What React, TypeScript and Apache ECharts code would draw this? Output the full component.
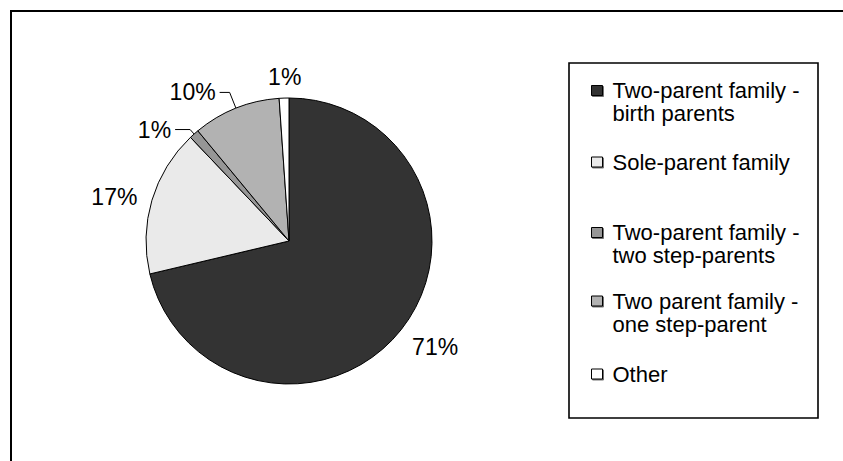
import React, { useEffect, useRef } from "react";
import * as echarts from "echarts";

const categories = [
  "Two-parent family - birth parents",
  "Sole-parent family",
  "Two-parent family - two step-parents",
  "Two parent family - one step-parent",
  "Other",
];
const legendLabels = [
  "Two-parent family -\nbirth parents",
  "Sole-parent family",
  "Two-parent family -\ntwo step-parents",
  "Two parent family -\none step-parent",
  "Other",
];
const values = [71.3, 16.6, 1.1, 9.9, 1.1];
const colors = ["#333333", "#eaeaea", "#969696", "#b2b2b2", "#ffffff"];
const showLeader = [false, false, true, true, false];
const leaderLen = [28, 11, 6, 17, 21];
const leaderLen2 = [0, 0, 15, 10, 0];
const labelDx = [-15, 0, 0, 0, 22];
const labelDy = [0, 0, 0, 0, 0];
const legendTops = [56, 150.5, 198, 266.5, 362.5];

export default function App() {
  const ref = useRef<HTMLDivElement>(null);
  useEffect(() => {
    if (!ref.current) return;
    document.body.style.margin = "0";
    document.body.style.overflow = "hidden";
    document.documentElement.style.overflow = "hidden";
    const chart = echarts.init(ref.current, null, { renderer: "svg" });
    const font = "Arial, 'Liberation Sans', sans-serif";
    const legends = categories.map((name, i) => {
      const twoLine = legendLabels[i].includes("\n");
      return {
        data: [name],
        left: 591,
        top: legendTops[i],
        padding: 0,
        orient: "vertical",
        itemWidth: 11,
        itemHeight: 10,
        icon: "rect",
        selectedMode: false,
        itemStyle: {
          borderColor: "#000",
          borderWidth: 1,
          shadowColor: "rgba(0,0,0,0.55)",
          shadowOffsetX: 1,
          shadowOffsetY: 1,
          shadowBlur: 0,
        },
        formatter: () => (twoLine ? "\n" : "") + legendLabels[i],
        textStyle: {
          fontFamily: font,
          fontSize: 22,
          lineHeight: 23,
          color: "#000",
          padding: [0, 0, 0, 5],
        },
      };
    });
    chart.setOption({
      animation: false,
      backgroundColor: "#fff",
      legend: legends,
      graphic: [
        {
          type: "line",
          shape: { x1: 10, y1: 11, x2: 843, y2: 11 },
          style: { stroke: "#000", lineWidth: 2 },
          silent: true,
        },
        {
          type: "line",
          shape: { x1: 11, y1: 10, x2: 11, y2: 461 },
          style: { stroke: "#000", lineWidth: 2 },
          silent: true,
        },
        {
          type: "rect",
          shape: { x: 569, y: 63, width: 249, height: 355 },
          style: { fill: "none", stroke: "#000", lineWidth: 1.6 },
          silent: true,
        },
      ],
      series: [
        {
          type: "pie",
          center: [289, 241],
          radius: 143,
          startAngle: 90,
          clockwise: true,
          avoidLabelOverlap: false,
          itemStyle: { borderColor: "#000", borderWidth: 1 },
          label: {
            show: true,
            position: "outside",
            fontFamily: font,
            fontSize: 23,
            color: "#000",
            distanceToLabelLine: 4,
            formatter: (p: any) => `${Math.round(p.percent)}%`,
          },
          labelLine: {
            lineStyle: { color: "#000", width: 1 },
          },
          labelLayout: (p: any) => ({
            dx: labelDx[p.dataIndex],
            dy: labelDy[p.dataIndex],
          }),
          data: categories.map((name, i) => ({
            name,
            value: values[i],
            itemStyle: { color: colors[i] },
            labelLine: {
              show: showLeader[i],
              length: leaderLen[i],
              length2: leaderLen2[i],
            },
          })),
        },
      ],
    });
    return () => chart.dispose();
  }, []);
  return (
    <div
      ref={ref}
      style={{ position: "absolute", left: 0, top: 0, width: 843, height: 461 }}
    />
  );
}
